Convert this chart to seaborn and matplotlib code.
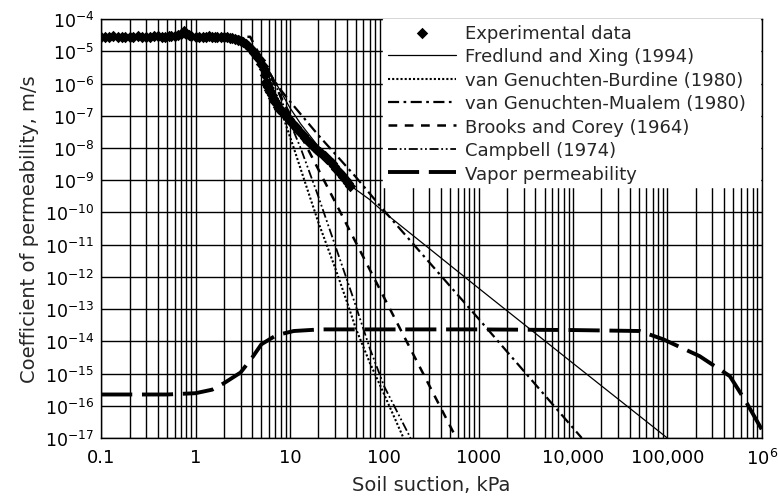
import numpy as np
import matplotlib
matplotlib.use("Agg")
import matplotlib.pyplot as plt
import seaborn as sns

## values (suction in kPa, permeability as log10 of m/s)
exp_suction = [0.1, 0.11, 0.12, 0.135, 0.15, 0.165, 0.18, 0.2, 0.22, 0.245, 0.27, 0.3, 0.33,
               0.36, 0.4, 0.44, 0.48, 0.52, 0.55, 0.6, 0.65, 0.7, 0.75, 0.8, 0.85, 0.9, 1.0,
               1.1, 1.2, 1.3, 1.4, 1.5, 1.6, 1.7, 1.85, 2.0, 2.15, 2.3, 2.45, 2.6, 2.8, 3.0,
               3.2, 3.4, 3.6, 3.8, 4.0, 4.2, 4.4, 4.6, 4.8, 5.0, 5.15, 5.3, 5.45, 5.6, 5.75,
               5.9, 6.05, 6.2, 6.4, 6.6, 6.8, 7.0, 7.25, 7.5, 7.75, 8.0, 8.3, 8.6, 9.0, 9.3,
               9.7, 10, 10.5, 11, 11.5, 12, 12.5, 13, 13.7, 14.5, 15.2, 16, 17, 18, 19, 20,
               21, 22, 23.5, 25, 26.5, 28, 29.5, 31, 33, 35, 37, 39, 41, 43]
exp_logk = [-4.55, -4.56, -4.55, -4.54, -4.56, -4.55, -4.55, -4.56, -4.56, -4.54, -4.55,
            -4.56, -4.55, -4.54, -4.54, -4.55, -4.56, -4.54, -4.53, -4.52, -4.48, -4.45,
            -4.38, -4.45, -4.5, -4.54, -4.55, -4.55, -4.56, -4.55, -4.54, -4.56, -4.55,
            -4.55, -4.56, -4.57, -4.57, -4.58, -4.6, -4.62, -4.64, -4.67, -4.72, -4.78,
            -4.84, -4.9, -4.97, -5.05, -5.12, -5.2, -5.28, -5.38, -5.45, -5.55, -5.75,
            -5.95, -6.05, -6.12, -6.2, -6.25, -6.35, -6.45, -6.5, -6.58, -6.65, -6.72,
            -6.78, -6.82, -6.88, -6.92, -7.0, -7.05, -7.1, -7.15, -7.22, -7.3, -7.36,
            -7.42, -7.47, -7.52, -7.6, -7.68, -7.74, -7.8, -7.9, -7.98, -8.03, -8.08,
            -8.13, -8.18, -8.26, -8.33, -8.4, -8.48, -8.56, -8.64, -8.73, -8.82, -8.91,
            -9.0, -9.09, -9.18]

fx_suction = [0.1, 3, 4, 5, 6, 7, 8, 10, 13, 20, 30, 43, 70, 100, 300, 1000, 1e4, 1e5]
fx_logk = [-4.55, -4.58, -4.85, -5.2, -5.6, -5.95, -6.25, -6.75, -7.25, -7.95, -8.6, -9.15,
           -9.6, -10.0, -11.12, -12.35, -14.68, -17.0]

vgb_suction = [0.1, 3, 4, 5, 6, 7, 8, 9, 11, 15, 20, 30, 40, 50, 70, 100, 160]
vgb_logk = [-4.55, -4.57, -4.85, -5.25, -5.75, -6.3, -6.8, -7.25, -8.0, -9.2, -10.3, -11.7,
            -12.75, -13.6, -14.65, -15.65, -17.0]

vgm_suction = [0.1, 2.5, 3, 4, 5, 6, 7, 8, 10, 20, 50, 100, 1000, 12400]
vgm_logk = [-4.55, -4.55, -4.58, -4.9, -5.3, -5.65, -5.95, -6.2, -6.55, -7.6, -8.9, -9.95,
            -13.3, -17.0]

bc_suction = [0.1, 3.8, 10, 27, 100, 580]
bc_logk = [-4.55, -4.55, -6.95, -9.4, -12.65, -17.0]

camp_suction = [0.1, 3, 4, 5, 6, 7, 8, 10, 13, 20, 30, 45, 70, 100, 190]
camp_logk = [-4.55, -4.57, -4.85, -5.2, -5.6, -6.0, -6.45, -7.2, -8.0, -9.5, -11.0, -12.5,
             -14.2, -15.4, -17.0]

vap_suction = [0.1, 0.5, 1.0, 1.5, 2.0, 3.0, 4.0, 5.0, 7.2, 11, 21, 100, 1000, 1e4, 5.1e4,
               9.1e4, 2.2e5, 4.6e5, 6.9e5, 1e6]
vap_logk = [-15.65, -15.65, -15.61, -15.5, -15.3, -14.97, -14.5, -14.09, -13.81, -13.68,
            -13.63, -13.63, -13.63, -13.65, -13.68, -13.94, -14.46, -15.08, -15.9, -16.73]

x_ticks = [0.1, 1, 10, 100, 1000, 1e4, 1e5, 1e6]
x_labels = ["0.1", "1", "10", "100", "1000", "10,000", "100,000", r"$10^6$"]
y_exps = list(range(-17, -3))

sns.set_style("white")
plt.rcParams["font.family"] = ["DejaVu Sans"]
plt.rcParams["mathtext.fontset"] = "dejavusans"

fig = plt.figure(figsize=(7.78, 5.02), dpi=100)
ax = fig.add_axes([0.130, 0.1255, 0.849, 0.8345])
ax.set_xscale("log")
ax.set_yscale("log")

def tok(v):
    return 10.0 ** np.array(v)

sns.scatterplot(x=exp_suction, y=tok(exp_logk), marker="D", s=34, color="black",
                edgecolor="black", linewidth=0, label="Experimental data", ax=ax, zorder=4)
sns.lineplot(x=fx_suction, y=tok(fx_logk), color="black", lw=0.9, sort=False,
             estimator=None, label="Fredlund and Xing (1994)", ax=ax)
sns.lineplot(x=vgb_suction, y=tok(vgb_logk), color="black", lw=1.5, linestyle=(0, (1, 1)),
             sort=False, estimator=None, label="van Genuchten-Burdine (1980)", ax=ax)
sns.lineplot(x=vgm_suction, y=tok(vgm_logk), color="black", lw=1.6,
             linestyle=(0, (5, 2, 1.2, 2)), sort=False, estimator=None,
             label="van Genuchten-Mualem (1980)", ax=ax)
sns.lineplot(x=bc_suction, y=tok(bc_logk), color="black", lw=1.8, linestyle=(0, (3.5, 3)),
             sort=False, estimator=None, label="Brooks and Corey (1964)", ax=ax)
sns.lineplot(x=camp_suction, y=tok(camp_logk), color="black", lw=1.3,
             linestyle=(0, (5, 1.5, 1, 1.5, 1, 1.5)), sort=False, estimator=None,
             label="Campbell (1974)", ax=ax)
sns.lineplot(x=vap_suction, y=tok(vap_logk), color="black", lw=2.8, linestyle=(0, (8, 2.5)),
             sort=False, estimator=None, label="Vapor permeability", ax=ax)

ax.set_xlim(0.1, 1e6)
ax.set_ylim(1e-17, 1e-4)
ax.set_xticks(x_ticks)
ax.set_xticklabels(x_labels)
ax.set_xticks([m * 10.0 ** e for e in range(-1, 6) for m in range(2, 10)], minor=True)
ax.xaxis.set_minor_formatter(matplotlib.ticker.NullFormatter())
ax.set_yticks([10.0 ** e for e in y_exps])
ax.set_yticklabels([r"$10^{%d}$" % e for e in y_exps])
ax.yaxis.set_minor_locator(matplotlib.ticker.NullLocator())
ax.tick_params(axis="both", which="both", length=0, colors="black")
ax.tick_params(axis="x", pad=7, labelsize=13)
ax.tick_params(axis="y", pad=5, labelsize=12.5)

ax.grid(True, which="major", axis="both", color="black", lw=1.0)
ax.grid(True, which="minor", axis="x", color="black", lw=1.0)
for sp in ax.spines.values():
    sp.set_color("black")
    sp.set_linewidth(1.0)

ax.set_xlabel("Soil suction, kPa", fontsize=14, labelpad=5)
ax.set_ylabel("Coefficient of permeability, m/s", fontsize=14, labelpad=4)

leg = ax.legend(loc="upper left", bbox_to_anchor=(0.427, 0.594, 0.571, 0.405), mode="expand",
                frameon=True, fancybox=False, edgecolor="white", facecolor="white",
                framealpha=1, fontsize=13, handlelength=3.8, labelspacing=0.3,
                borderaxespad=0, borderpad=0.25, handletextpad=0.5)
leg.set_zorder(5)

fig.savefig("out.png", dpi=100)
